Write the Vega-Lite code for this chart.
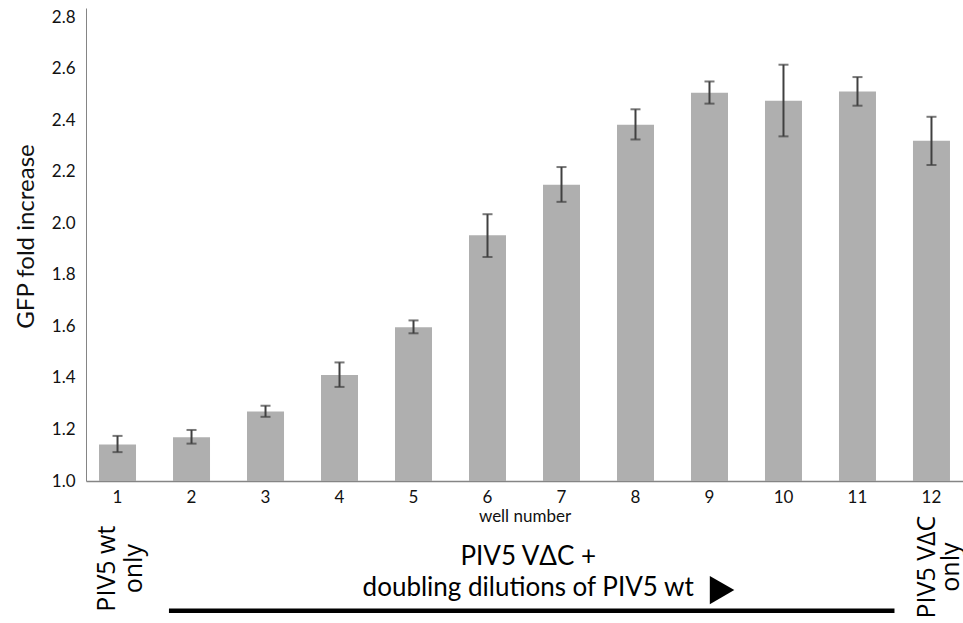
{
  "$schema": "https://vega.github.io/schema/vega-lite/v6.json",
  "width": 877,
  "height": 473,
  "autosize": {"type": "none"},
  "padding": {"left": 86, "top": 8, "right": 0, "bottom": 142},
  "background": "white",
  "config": {"view": {"stroke": null}},
  "data": {
    "values": [
      {"well": 1, "fold": 1.142, "lo": 1.112, "hi": 1.175},
      {"well": 2, "fold": 1.170, "lo": 1.145, "hi": 1.198},
      {"well": 3, "fold": 1.270, "lo": 1.249, "hi": 1.292},
      {"well": 4, "fold": 1.411, "lo": 1.365, "hi": 1.460},
      {"well": 5, "fold": 1.596, "lo": 1.573, "hi": 1.623},
      {"well": 6, "fold": 1.953, "lo": 1.869, "hi": 2.035},
      {"well": 7, "fold": 2.149, "lo": 2.083, "hi": 2.218},
      {"well": 8, "fold": 2.382, "lo": 2.325, "hi": 2.442},
      {"well": 9, "fold": 2.506, "lo": 2.464, "hi": 2.550},
      {"well": 10, "fold": 2.475, "lo": 2.337, "hi": 2.615},
      {"well": 11, "fold": 2.511, "lo": 2.456, "hi": 2.567},
      {"well": 12, "fold": 2.320, "lo": 2.226, "hi": 2.413}
    ]
  },
  "layer": [
    {
      "mark": {"type": "bar", "color": "#afafaf"},
      "encoding": {
        "x": {
          "field": "well",
          "type": "ordinal",
          "scale": {"paddingInner": 0.5, "paddingOuter": 0.176},
          "axis": {
            "labelAngle": 0,
            "ticks": false,
            "domainColor": "#858585",
            "domainWidth": 1.5,
            "labelFont": "Lato",
            "labelFontSize": 17,
            "labelColor": "#111111",
            "labelPadding": 8,
            "title": "well number",
            "titleFont": "Lato",
            "titleFontSize": 17,
            "titleFontWeight": "normal",
            "titleColor": "#111111",
            "titlePadding": 3
          }
        },
        "y": {
          "field": "fold",
          "type": "quantitative",
          "scale": {"domain": [1, 2.835], "zero": false, "nice": false},
          "axis": {
            "values": [1, 1.2, 1.4, 1.6, 1.8, 2.0, 2.2, 2.4, 2.6, 2.8],
            "format": ".1f",
            "ticks": false,
            "grid": false,
            "domainColor": "#858585",
            "domainWidth": 1,
            "labelFont": "Lato",
            "labelFontSize": 17,
            "labelColor": "#111111",
            "labelPadding": 11,
            "title": "GFP fold increase",
            "titleFont": "Lato",
            "titleFontSize": 24,
            "titleFontWeight": "normal",
            "titleColor": "#111111",
            "titleX": -53,
            "titleY": 228,
            "titleBaseline": "alphabetic",
            "titleAlign": "center",
            "titleAngle": 270
          }
        },
        "y2": {"datum": 1}
      }
    },
    {
      "mark": {"type": "rule", "color": "#404040", "strokeWidth": 2},
      "encoding": {
        "x": {"field": "well", "type": "ordinal"},
        "y": {"field": "lo", "type": "quantitative"},
        "y2": {"field": "hi"}
      }
    },
    {
      "mark": {"type": "tick", "color": "#404040", "thickness": 2, "size": 10},
      "encoding": {
        "x": {"field": "well", "type": "ordinal"},
        "y": {"field": "lo", "type": "quantitative"}
      }
    },
    {
      "mark": {"type": "tick", "color": "#404040", "thickness": 2, "size": 10},
      "encoding": {
        "x": {"field": "well", "type": "ordinal"},
        "y": {"field": "hi", "type": "quantitative"}
      }
    },
    {
      "data": {"values": [{"t": "PIV5 wt\nonly"}]},
      "mark": {"type": "text", "angle": 270, "font": "Open Sans", "fontSize": 25, "lineBreak": "\n", "lineHeight": 27, "align": "center", "baseline": "middle", "color": "black"},
      "encoding": {
        "text": {"field": "t"},
        "x": {"datum": 1, "type": "ordinal", "bandPosition": 0.22},
        "y": {"datum": 0.66, "type": "quantitative"}
      }
    },
    {
      "data": {"values": [{"t": "PIV5 VΔC\nonly"}]},
      "mark": {"type": "text", "angle": 270, "font": "Open Sans", "fontSize": 25, "lineBreak": "\n", "lineHeight": 24, "align": "center", "baseline": "middle", "color": "black"},
      "encoding": {
        "text": {"field": "t"},
        "x": {"datum": 12, "type": "ordinal", "bandPosition": 0.39},
        "y": {"datum": 0.666, "type": "quantitative"}
      }
    },
    {
      "data": {"values": [{"t": "PIV5 VΔC +\ndoubling dilutions of PIV5 wt"}]},
      "mark": {"type": "text", "font": "Lato", "fontSize": 26, "lineBreak": "\n", "lineHeight": 31, "align": "center", "baseline": "middle", "color": "black"},
      "encoding": {
        "text": {"field": "t"},
        "x": {"datum": 6, "type": "ordinal", "bandPosition": 1.6},
        "y": {"datum": 0.705, "type": "quantitative"}
      }
    },
    {
      "data": {"values": [{"t": "arrow"}]},
      "mark": {"type": "point", "shape": "triangle-right", "filled": true, "color": "black", "opacity": 1, "size": 800},
      "encoding": {
        "x": {"datum": 9, "type": "ordinal", "bandPosition": 0.84},
        "y": {"datum": 0.577, "type": "quantitative"}
      }
    },
    {
      "data": {"values": [{"t": "line"}]},
      "mark": {"type": "rule", "color": "black", "strokeWidth": 4.5},
      "encoding": {
        "x": {"datum": 2, "type": "ordinal", "bandPosition": -0.11},
        "x2": {"datum": 12, "bandPosition": -0.5},
        "y": {"datum": 0.497, "type": "quantitative"}
      }
    }
  ]
}
